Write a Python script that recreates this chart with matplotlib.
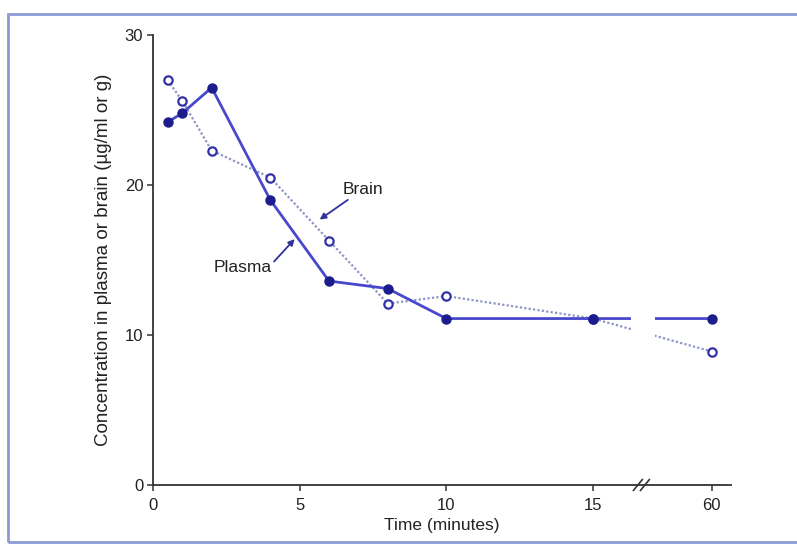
import numpy as np
import matplotlib
matplotlib.use("Agg")
import matplotlib.pyplot as plt
from matplotlib.patches import Rectangle
import matplotlib.transforms as mtransforms

# time points (minutes); the last one sits after an axis break
time_min = [0.5, 1, 2, 4, 6, 8, 10, 15, 60]
plasma = [24.2, 24.8, 26.5, 19.0, 13.6, 13.1, 11.1, 11.1, 11.1]
brain = [27.0, 25.6, 22.3, 20.5, 16.3, 12.1, 12.6, 11.1, 8.9]

xtick_vals = [0, 5, 10, 15, 60]
ytick_vals = [0, 10, 20, 30]

# axis break: values beyond 15 min are drawn compressed
POS_60 = 19.05
BREAK_X = 16.65
GAP = (16.3, 17.1)


def xpos(t):
    return POS_60 if t == 60 else t


plt.rcParams["font.family"] = ["Liberation Sans", "DejaVu Sans"]
fig = plt.figure(figsize=(7.97, 5.46), dpi=100)
ax = fig.add_axes([0.192, 0.1117, 0.725, 0.824])

xs = [xpos(t) for t in time_min]
line_col = "#4848cc"
mark_col = "#1c1c8c"
ax.plot(xs, brain, ls=(0, (1, 1)), color="#8e94c8", lw=1.6, zorder=2)
ax.plot(xs, brain, ls="none", marker="o", ms=6, mfc="white", mec="#3232a8", mew=1.6, zorder=4)
ax.plot(xs, plasma, color=line_col, lw=2.0, zorder=3)
ax.plot(xs, plasma, ls="none", marker="o", ms=6.5, color=mark_col, zorder=5)

# break in the lines
ax.axvspan(GAP[0], GAP[1], ymin=0.03, ymax=1, color="white", zorder=6, lw=0)

ax.set_xlim(0, 19.7)
ax.set_ylim(0, 30)
ax.set_xticks([xpos(t) for t in xtick_vals])
ax.set_xticklabels([str(t) for t in xtick_vals])
ax.set_yticks(ytick_vals)
for s in ["top", "right"]:
    ax.spines[s].set_visible(False)
for s in ["left", "bottom"]:
    ax.spines[s].set_color("#333333")
    ax.spines[s].set_linewidth(1.3)
ax.tick_params(direction="out", length=4, width=1.1, colors="#333333",
               labelsize=12, labelcolor="#222222")
ax.tick_params(axis="x", pad=5)
ax.tick_params(axis="y", pad=3)

# break marks on the x axis
tr = mtransforms.blended_transform_factory(ax.transData, ax.transAxes)
for dx in (-0.12, 0.12):
    ax.plot([BREAK_X + dx - 0.15, BREAK_X + dx + 0.15], [-0.012, 0.012],
            transform=tr, color="#333333", lw=1.2, clip_on=False, zorder=7)

ax.set_xlabel("Time (minutes)", fontsize=12.5, color="#222222", labelpad=4)
ax.set_ylabel("Concentration in plasma or brain (µg/ml or g)", fontsize=13.5,
              color="#222222", labelpad=9)

arrow = dict(arrowstyle="-|>", color="#30309a", lw=1.3, mutation_scale=9,
             shrinkA=0, shrinkB=0)
ax.annotate("Brain", xy=(5.68, 17.7), xytext=(6.45, 19.7), fontsize=12.5,
            color="#222222", ha="left", va="center", arrowprops=arrow)
ax.annotate("Plasma", xy=(4.83, 16.4), xytext=(2.05, 14.5), fontsize=12.5,
            color="#222222", ha="left", va="center",
            arrowprops=dict(arrow, relpos=(1.0, 0.7)))

# outer frame of the figure panel
fig.patches.append(Rectangle((8 / 797, 4 / 546), 1.2, 528 / 546, transform=fig.transFigure,
                             fill=False, ec="#8c9ad6", lw=2.0))

fig.savefig("out.png", dpi=100)
